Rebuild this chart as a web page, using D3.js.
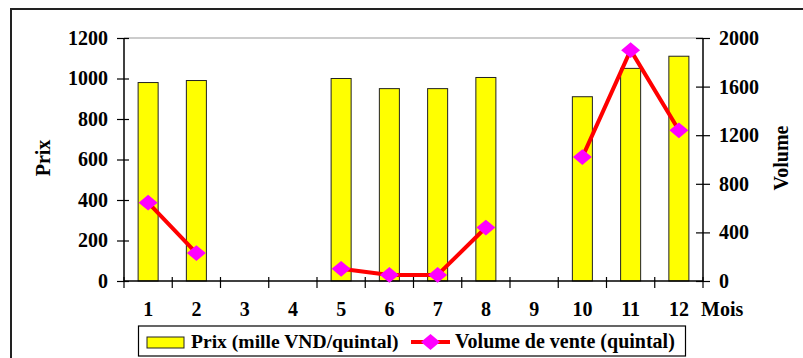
<!DOCTYPE html>
<html>
<head>
<meta charset="utf-8">
<script src="https://cdn.jsdelivr.net/npm/d3@7"></script>
<style>
  html, body { margin: 0; padding: 0; background: #fff; }
  svg { display: block; }
</style>
</head>
<body>
<svg id="chart" width="803" height="358"></svg>
<script>
// Monthly price (bars, left axis) and sales volume (line, right axis)
const months = ["1", "2", "3", "4", "5", "6", "7", "8", "9", "10", "11", "12"];
const prix = [980, 990, null, null, 1000, 950, 950, 1005, null, 910, 1050, 1110];
const volume = [645, 230, null, null, 100, 50, 50, 440, null, 1020, 1900, 1240];
const prixTicks = [0, 200, 400, 600, 800, 1000, 1200];
const volumeTicks = [0, 400, 800, 1200, 1600, 2000];
const legendLabels = ["Prix (mille VND/quintal)", "Volume de vente (quintal)"];

const FONT = "'Liberation Serif', 'Times New Roman', Tinos, 'DejaVu Serif', serif";

const svg = d3.select("#chart");
const plot = { left: 124, right: 703, top: 38, bottom: 281 };

// Outer frame
svg.append("rect")
  .attr("x", 11).attr("y", 9)
  .attr("width", 830).attr("height", 380)
  .attr("fill", "none").attr("stroke", "#222").attr("stroke-width", 2);

const slot = d3.scaleBand().domain(months).range([plot.left, plot.right]).padding(0);
const x = d3.scaleBand().domain(months).range([plot.left, plot.right])
  .paddingInner(0.585).paddingOuter(0.2925);
const yL = d3.scaleLinear().domain([0, 1200]).range([plot.bottom, plot.top]);
const yR = d3.scaleLinear().domain([0, 2000]).range([plot.bottom, plot.top]);

// Top boundary line of the plot area
svg.append("line")
  .attr("x1", plot.left).attr("x2", plot.right)
  .attr("y1", yL(1200)).attr("y2", yL(1200))
  .attr("stroke", "#999").attr("stroke-width", 1);

// Bars
svg.append("g").selectAll("rect")
  .data(months.map((m, i) => ({ m, v: prix[i] })).filter(d => d.v != null))
  .join("rect")
  .attr("x", d => x(d.m))
  .attr("y", d => yL(d.v))
  .attr("width", x.bandwidth())
  .attr("height", d => yL(0) - yL(d.v))
  .attr("fill", "#ffff00")
  .attr("stroke", "#222").attr("stroke-width", 1);

// Left axis
const axL = svg.append("g").attr("transform", `translate(${plot.left},0)`)
  .call(d3.axisLeft(yL).tickValues(prixTicks).tickSize(7).tickPadding(9).tickFormat(d3.format("d")));
axL.selectAll(".tick line").attr("x2", -7).attr("x1", 5);
axL.select(".domain").remove();
axL.append("line").attr("y1", plot.top).attr("y2", plot.bottom).attr("stroke", "#000").attr("stroke-width", 1.5);

// Right axis
const axR = svg.append("g").attr("transform", `translate(${plot.right},0)`)
  .call(d3.axisRight(yR).tickValues(volumeTicks).tickSize(7).tickPadding(9).tickFormat(d3.format("d")));
axR.selectAll(".tick line").attr("x1", -7).attr("x2", 7);
axR.select(".domain").remove();
axR.append("line").attr("y1", plot.top).attr("y2", plot.bottom).attr("stroke", "#000").attr("stroke-width", 1.5);

// Bottom axis: ticks on slot boundaries, labels centred in each slot
const axB = svg.append("g").attr("transform", `translate(0,${plot.bottom})`);
axB.append("line").attr("x1", plot.left).attr("x2", plot.right).attr("stroke", "#000").attr("stroke-width", 1.5);
axB.selectAll("line.tk")
  .data(months.map(m => slot(m)).concat([plot.right]))
  .join("line").attr("class", "tk")
  .attr("x1", d => d).attr("x2", d => d)
  .attr("y1", -4).attr("y2", 7)
  .attr("stroke", "#000").attr("stroke-width", 1.2);
axB.selectAll("text")
  .data(months)
  .join("text")
  .attr("x", d => slot(d) + slot.bandwidth() / 2)
  .attr("y", 35)
  .attr("text-anchor", "middle")
  .text(d => d);

svg.selectAll(".tick line").attr("stroke", "#000").attr("stroke-width", 1.2);

svg.append("text").attr("x", 701).attr("y", plot.bottom + 35).text("Mois");

// Axis titles
svg.append("text")
  .attr("transform", `translate(50,158) rotate(-90)`)
  .attr("text-anchor", "middle").text("Prix");
svg.append("text")
  .attr("transform", `translate(788,158) rotate(-90)`)
  .attr("text-anchor", "middle").text("Volume");

// Volume line with gaps for missing months
const pts = months.map((m, i) => ({ m, v: volume[i] }));
const line = d3.line()
  .defined(d => d.v != null)
  .x(d => x(d.m) + x.bandwidth() / 2)
  .y(d => yR(d.v));
svg.append("path")
  .datum(pts)
  .attr("d", line)
  .attr("fill", "none").attr("stroke", "#ff0000").attr("stroke-width", 4)
  .attr("stroke-linejoin", "round");

// Diamond marker: a square turned 45 degrees, slightly widened
const diamond = d3.symbol().type(d3.symbolSquare).size(125);
const markerTf = (cx, cy) => `translate(${cx},${cy}) scale(1.2,1) rotate(45)`;
svg.append("g").selectAll("path")
  .data(pts.filter(d => d.v != null))
  .join("path")
  .attr("transform", d => markerTf(x(d.m) + x.bandwidth() / 2, yR(d.v)))
  .attr("d", diamond)
  .attr("fill", "#ff00ff");

// Legend
const lg = svg.append("g").attr("class", "legend");
lg.append("rect").attr("x", 138.5).attr("y", 326).attr("width", 547).attr("height", 30)
  .attr("fill", "#fff").attr("stroke", "#000").attr("stroke-width", 1.2);
lg.append("rect").attr("x", 147).attr("y", 337).attr("width", 37).attr("height", 11)
  .attr("fill", "#ffff00").attr("stroke", "#222").attr("stroke-width", 1);
const lgText1 = lg.append("text").attr("x", 191).attr("y", 348).text(legendLabels[0]);
lg.append("line").attr("x1", 411).attr("x2", 450).attr("y1", 342).attr("y2", 342)
  .attr("stroke", "#ff0000").attr("stroke-width", 4);
lg.append("path").attr("transform", markerTf(430.5, 342))
  .attr("d", diamond).attr("fill", "#ff00ff");
const lgText2 = lg.append("text").attr("x", 455).attr("y", 348).text(legendLabels[1]);

// Typography for every label
svg.selectAll("text")
  .attr("font-family", null)
  .style("font-family", FONT)
  .style("font-weight", "bold")
  .style("font-size", "20px")
  .attr("fill", "#000");
lgText1.style("font-size", "19.6px");
lgText2.style("font-size", "20px");
</script>
</body>
</html>
